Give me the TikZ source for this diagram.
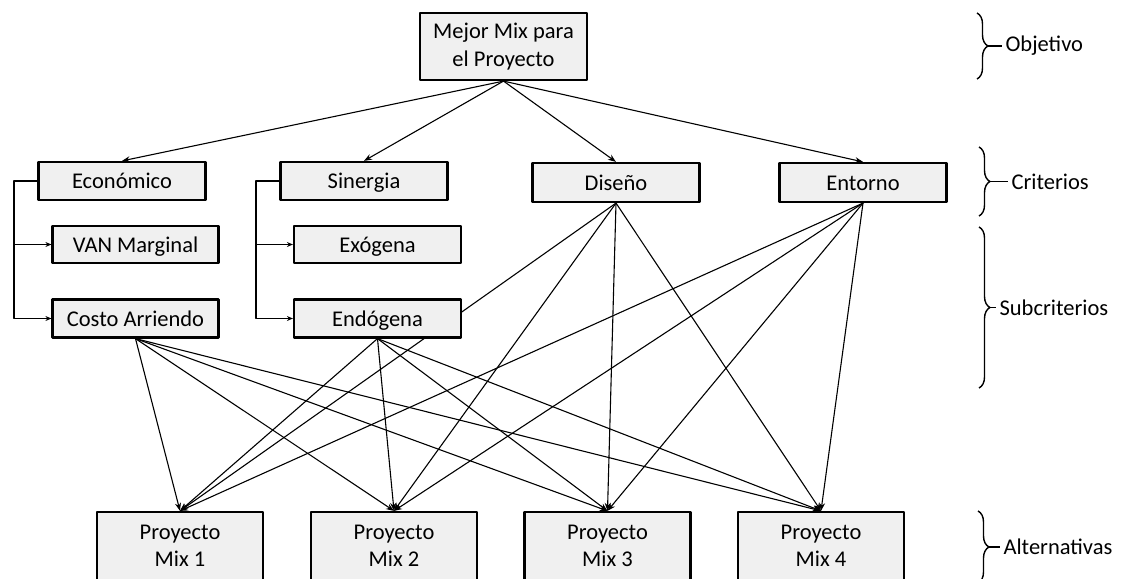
\documentclass[tikz,border=0pt]{standalone}
\usepackage{fontspec}
\setmainfont{Carlito}
\usetikzlibrary{arrows.meta,backgrounds,decorations.pathreplacing}
\begin{document}
\begin{tikzpicture}[x=1pt,y=-1pt,line join=round,>={Stealth[length=8pt,width=6pt]}]
	\tikzset{every node/.style={font=\fontsize{22.5}{27.5}\selectfont},
		caja/.style={draw,line width=2.2pt,fill=black!6,minimum width=167pt,minimum height=38pt,inner sep=0pt,align=center},
		cajauna/.style={caja,text height=19pt,text depth=4pt},
		flecha/.style={line width=1.1pt,->},
		ramal/.style={line width=1.1pt,-{Stealth[length=6pt,width=5pt]}},
		llave/.style={line width=1.4pt,decorate,decoration={brace,amplitude=11pt}}}
	\clip (0,0) rectangle (1126,578);
	\node[caja,minimum height=67pt] (meta) at (503.5,46.5) {Mejor Mix para\\el Proyecto};
	\node[cajauna] (econ) at (122,181) {Económico};
	\node[cajauna] (siner) at (364,181) {Sinergia};
	\node[cajauna,minimum height=39pt] (dise) at (616,182.5) {Diseño};
	\node[cajauna,minimum height=39pt] (ento) at (863,182.5) {Entorno};
	\node[cajauna,minimum width=166pt,minimum height=37pt] (van) at (135.5,244.5) {VAN Marginal};
	\node[cajauna,minimum width=166pt] (costo) at (135.5,318.5) {Costo Arriendo};
	\node[cajauna,minimum height=37pt] (exo) at (377.5,244.5) {Exógena};
	\node[cajauna] (endo) at (377.5,318.5) {Endógena};
	\foreach \i/\x in {1/180,2/394,3/607.5,4/821}
		\node[caja,minimum width=166pt,minimum height=68pt] (mix\i) at (\x,546) {Proyecto\\Mix \i};
	\begin{scope}[on background layer]
		\foreach \c in {econ,siner,dise,ento}
			\draw[flecha] (meta.south) -- (\c.north);
		\foreach \s in {costo,endo,dise,ento}
			\foreach \i in {1,...,4}
				\draw[flecha] (\s.south) -- (mix\i.north);
	\end{scope}
	\coordinate (troncoA) at (14,0);
	\coordinate (troncoB) at (256,0);
	\draw[ramal] (econ.west) -- (troncoA |- econ.west) |- (costo.west);
	\draw[ramal] (troncoA |- van.west) -- (van.west);
	\draw[ramal] (siner.west) -- (troncoB |- siner.west) |- (endo.west);
	\draw[ramal] (troncoB |- exo.west) -- (exo.west);
	\draw[llave] (977,13) -- (977,79);
	\draw[llave] (979,147) -- (979,216);
	\draw[llave] (979,227) -- (979,388);
	\draw[llave] (978,511) -- (978,583);
	\coordinate (pObj) at (988,46);
	\coordinate (pCri) at (990,181.5);
	\coordinate (pSub) at (990,307.5);
	\coordinate (pAlt) at (989,547);
	\node[anchor=west] (lObj) at (1002,46) {Objetivo};
	\node[anchor=west] (lCri) at (1008,181.5) {Criterios};
	\node[anchor=west] (lSub) at (996,307.5) {Subcriterios};
	\node[anchor=west] (lAlt) at (1000,547) {Alternativas};
	\foreach \p/\l in {pObj/lObj,pCri/lCri,pSub/lSub,pAlt/lAlt}
		\draw[line width=1.4pt] (\p) -- (\l.west);
\end{tikzpicture}
\end{document}
